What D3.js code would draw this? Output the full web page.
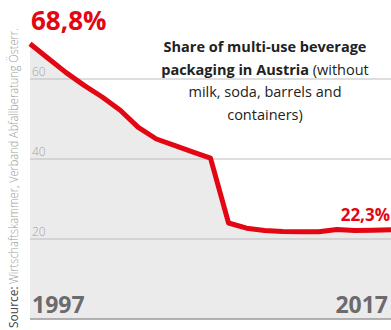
<!DOCTYPE html>
<html>
<head>
  <meta charset="utf-8">
  <title>Multi-use beverage packaging</title>
  <style>
    body { margin: 0; background: #fff; font-family: "Open Sans", sans-serif; }
    .grid line { stroke: #bdbdbd; stroke-width: 1; }
    .grid text { fill: #a3a3a3; font-size: 12px; font-weight: 300; }
  </style>
  <script src="https://d3js.org/d3.v7.min.js"></script>
</head>
<body>
  <script>
    var years = d3.range(1997, 2018);
    var shares = [68.8, 65.2, 61.6, 58.4, 55.5, 52.2, 47.9, 45.0, 43.4, 41.8, 40.2,
                  24.0, 22.7, 22.1, 21.9, 21.8, 21.8, 22.4, 22.1, 22.2, 22.3];
    var gridValues = [20, 40, 60];
    var titleLines = [
      [["Share of multi-use beverage", true]],
      [["packaging in Austria", true], [" (without", false]],
      [["milk, soda, barrels and", false]],
      [["containers)", false]]
    ];

    var width = 391, height = 330;
    var red = "#e30613";

    var svg = d3.select("body").append("svg")
      .attr("width", width)
      .attr("height", height);

    var x = d3.scaleLinear().domain([1997, 2017]).range([30, 391]);
    var y = d3.scaleLinear().domain([0, 80]).range([319, -1]);

    var data = years.map((yr, i) => ({year: yr, value: shares[i]}));

    // gray area under the line
    var area = d3.area()
      .x(d => x(d.year))
      .y0(y(0))
      .y1(d => y(d.value));

    svg.append("path")
      .datum(data)
      .attr("d", area)
      .attr("fill", "#ebebeb");

    // gridlines
    var grid = svg.append("g").attr("class", "grid")
      .selectAll("g")
      .data(gridValues)
      .enter().append("g");

    grid.append("line")
      .attr("x1", x(1997)).attr("x2", width)
      .attr("y1", d => y(d)).attr("y2", d => y(d));

    grid.append("text")
      .attr("x", 32)
      .attr("y", d => y(d) - 3)
      .text(d => d);

    // baseline
    svg.append("line")
      .attr("x1", x(1997)).attr("x2", width)
      .attr("y1", y(0)).attr("y2", y(0))
      .attr("stroke", "#999").attr("stroke-width", 1.5);

    // the red line
    var line = d3.line()
      .x(d => x(d.year))
      .y(d => y(d.value));

    svg.append("path")
      .datum(data)
      .attr("d", line)
      .attr("fill", "none")
      .attr("stroke", red)
      .attr("stroke-width", 5)
      .attr("stroke-linejoin", "round");

    // value labels
    svg.append("text")
      .attr("x", 31).attr("y", 30)
      .attr("fill", red)
      .style("font-size", "26px").style("font-weight", 700)
      .text("68,8%");

    svg.append("text")
      .attr("x", 390).attr("y", 221)
      .attr("text-anchor", "end")
      .attr("fill", red)
      .style("font-size", "17px").style("font-weight", 700)
      .text("22,3%");

    // year labels
    svg.append("text")
      .attr("x", 32).attr("y", 313)
      .attr("fill", "#6b6b6b")
      .style("font-size", "23px").style("font-weight", 700)
      .text(years[0]);

    svg.append("text")
      .attr("x", 388).attr("y", 313)
      .attr("text-anchor", "end")
      .attr("fill", "#6b6b6b")
      .style("font-size", "23px").style("font-weight", 700)
      .text(years[years.length - 1]);

    // title
    var title = svg.append("text")
      .attr("text-anchor", "middle")
      .attr("fill", "#222")
      .style("font-size", "14.5px");

    titleLines.forEach((parts, i) => {
      var row = title.append("tspan")
        .attr("x", 265)
        .attr("y", 52 + i * 22.5);
      parts.forEach(p => {
        row.append("tspan")
          .style("font-weight", p[1] ? 700 : 400)
          .text(p[0]);
      });
    });

    // vertical source note (condensed by a horizontal scale)
    var src = svg.append("g")
      .attr("transform", "translate(18,328) rotate(-90)");

    src.append("text")
      .attr("x", 0).attr("y", 0)
      .attr("fill", "#444")
      .style("font-size", "12px")
      .text("Source:");

    var srcText = src.append("text")
      .attr("x", 0).attr("y", 0)
      .attr("fill", "#9a9a9a")
      .style("font-size", "13px").style("font-weight", 300)
      .text("Wirtschaftskammer, Verband Abfallberatung Österr.");

    var k = 256 / srcText.node().getComputedTextLength();
    srcText.attr("transform", "translate(44,0) scale(" + k + ",1)");
  </script>
</body>
</html>
